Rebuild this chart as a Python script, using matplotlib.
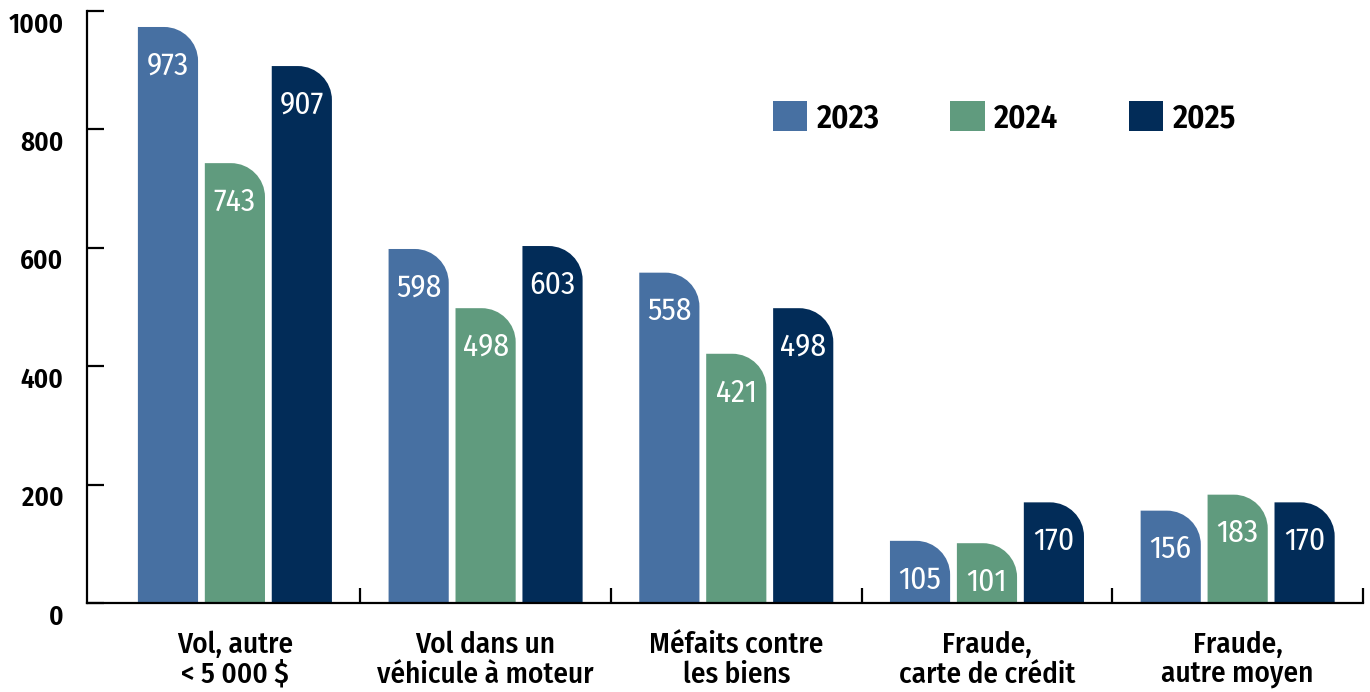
import numpy as np
import matplotlib
matplotlib.use("Agg")
from matplotlib import pyplot as plt
from matplotlib.path import Path
from matplotlib.patches import PathPatch, Patch
from matplotlib.transforms import ScaledTranslation

plt.rcParams['font.family'] = ['Fira Sans Condensed', 'DejaVu Sans']

categories = ["Vol, autre\n< 5 000 $", "Vol dans un\nvéhicule à moteur",
              "Méfaits contre\nles biens", "Fraude,\ncarte de crédit",
              "Fraude,\nautre moyen"]
years = ["2023", "2024", "2025"]
v2023 = [973, 598, 558, 105, 156]
v2024 = [743, 498, 421, 101, 183]
v2025 = [907, 603, 498, 170, 170]
colors = ["#4770a2", "#609b7e", "#022c58"]
yticks = [0, 200, 400, 600, 800, 1000]

W, H, DPI = 1370, 692, 100
fig = plt.figure(figsize=(W / DPI, H / DPI), dpi=DPI)
ax = fig.add_axes([87 / W, 1 - 603 / H, (1363 - 87) / W, (603 - 11) / H])
ax.set_xlim(-0.59, 4.5)
ax.set_ylim(0, 1000)

bar_w = 0.24
step = 0.267
# corner radius in px, converted to data units
px_x = (1363 - 87) / 5.09
px_y = (603 - 11) / 1000
r_px = 34


def rounded_bar(x, h, color):
    rx = min(r_px / px_x, bar_w)
    ry = min(r_px / px_y, h)
    x0, x1 = x - bar_w / 2, x + bar_w / 2
    k = 0.5523
    verts = [(x0, 0), (x0, h), (x1 - rx, h),
             (x1 - rx + k * rx, h), (x1, h - ry + k * ry), (x1, h - ry),
             (x1, 0), (x0, 0)]
    codes = [Path.MOVETO, Path.LINETO, Path.LINETO,
             Path.CURVE4, Path.CURVE4, Path.CURVE4,
             Path.LINETO, Path.CLOSEPOLY]
    ax.add_patch(PathPatch(Path(verts, codes), facecolor=color, edgecolor='none'))


xs = np.arange(len(categories))
for j, vals in enumerate([v2023, v2024, v2025]):
    for i, v in enumerate(vals):
        x = xs[i] + (j - 1) * step
        rounded_bar(x, v, colors[j])
        ax.annotate(str(v), (x, v), xytext=(0, -28), textcoords='offset points',
                    ha='center', va='center', color='white', fontsize=22.5)

for s in ['top', 'right']:
    ax.spines[s].set_visible(False)
for s in ['left', 'bottom']:
    ax.spines[s].set_linewidth(1.6)

ax.set_yticks(yticks)
ax.set_yticklabels([str(t) for t in yticks], fontsize=19.5, fontweight='semibold')
ax.tick_params(axis='y', direction='in', length=12, width=1.6, pad=17)
offset = ScaledTranslation(0, -11 / DPI, fig.dpi_scale_trans)
for lab in ax.get_yticklabels():
    lab.set_transform(lab.get_transform() + offset)

ax.set_xticks(xs)
ax.set_xticklabels(categories, fontsize=21, fontweight='medium', linespacing=1.05)
ax.tick_params(axis='x', which='major', length=0, pad=20)
ax.set_xticks(np.arange(0.5, 4.6, 1.0), minor=True)
ax.tick_params(axis='x', which='minor', direction='in', length=10.5, width=1.6)

handles = [Patch(facecolor=c, edgecolor='none') for c in colors]
leg = ax.legend(handles, years, loc='upper left', ncol=3, frameon=False,
                bbox_to_anchor=(773 / W, 1 - 101 / H), bbox_transform=fig.transFigure,
                prop={'size': 23.5, 'weight': 'semibold'}, handlelength=1.05, handleheight=1.05,
                handletextpad=0.3, columnspacing=2.15, borderpad=0, borderaxespad=0)

fig.savefig("out.png", dpi=DPI)
plt.close(fig)
